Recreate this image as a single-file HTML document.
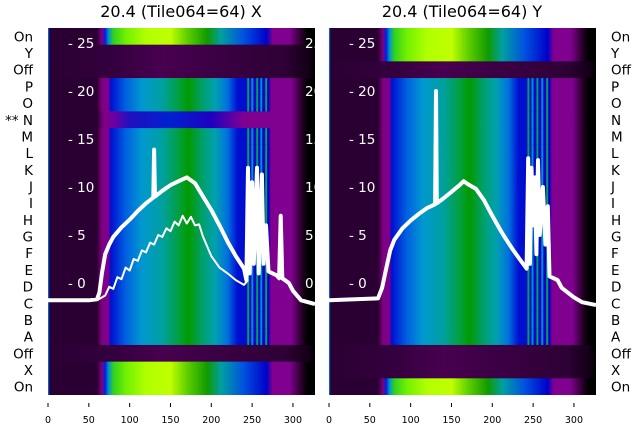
<!DOCTYPE html>
<html><head><meta charset="utf-8"><style>
html,body{margin:0;padding:0;background:#fff;}
svg{display:block;font-family:"DejaVu Sans","Liberation Sans",sans-serif;}
</style></head><body>
<svg id="c" width="640" height="440" xmlns="http://www.w3.org/2000/svg">
<defs>
<clipPath id="clipL"><rect x="48" y="28" width="267" height="367"/></clipPath>
<clipPath id="clipR"><rect x="329" y="28" width="267" height="367"/></clipPath>
</defs>
<g id="root"></g>
</svg>
<script>
const rowLabels = ["On","Y","Off","P","O","N","M","L","K","J","I","H","G","F","E","D","C","B","A","Off","X","On"];
const rowTypesX = ["on","off","off","n","n","dim","n","n","n","n","n","n","n","n","n","n","n","n","n","off","on","on"];
const rowTypesY = ["on","on","off","n","n","n","n","n","n","n","n","n","n","n","n","n","n","n","n","off","off","on"];
const xTicks = [0,50,100,150,200,250,300];
const yTicks = [0,5,10,15,20,25];
const mainX_x = [0,50,60,63,66,70,75,80,90,100,110,120,129,130,131,140,150,160,170,180,190,200,210,220,230,240,243,245,247,250,252,256,258,262,264,267,270,280,283,285,287,295,300,310,327];
const mainX_v = [-1.8,-1.8,-1.7,-1,1,3,4,4.8,5.8,6.6,7.5,8.3,8.9,13.9,9,9.6,10.2,10.6,11,10.4,9,7.6,6,4.3,2.8,1.5,0.3,12,1,10.5,2,12,1,11.3,2,6,1.2,0.8,0.5,7,0.5,0,-0.8,-1.8,-2.2];
const lowX_x = [60,70,75,80,85,90,95,100,105,110,115,120,125,130,135,140,145,150,155,160,165,170,175,180,185,190,200,210,220,230,240,245];
const lowX_v = [-1.8,-1.3,-0.4,-0.6,0.6,0.4,1.6,1.3,2.5,2.3,3.4,3.2,4.2,4,5,4.8,5.7,5.4,6.4,6,7,6.2,6.9,6,6.1,4.8,2.8,1.6,1,0.3,-0.2,0.3];
const mainY_x = [0,60,65,70,75,80,90,100,110,120,130,131,132,140,150,160,165,170,180,190,200,210,215,225,235,242,244,246,248,250,252,254,256,258,262,265,268,270,280,285,300,310,327];
const mainY_v = [-1.8,-1.6,-0.5,1.5,3.4,4.5,5.7,6.5,7.2,7.8,8.2,20,8.3,8.8,9.5,10.2,10.6,10.3,9.8,8.6,7,5.5,4.8,3.5,2.3,1.5,13,2,12,6,11,3,12.8,5,10,4,8,0.7,0.3,-0.5,-1.5,-2,-2.3];
const stripesX = [244,249,255,260,266];
const stripesY = [243,248,254,260,266];

const NS="http://www.w3.org/2000/svg";
const root=document.getElementById('root');
const defs=document.querySelector('defs');
const TOP=28, ROWH=367/22, SC=0.8165;
function px(ox,x){return ox+x*SC;}
function py(v){return 283-v*9.6;}
function mk(tag,attrs,parent){const e=document.createElementNS(NS,tag);for(const k in attrs)e.setAttribute(k,attrs[k]);(parent||root).appendChild(e);return e;}

const profiles={
 n:[[0,"#2a0033"],[60,"#2a0033"],[66,"#800080"],[74,"#7a0090"],[77,"#0010d0"],[95,"#0060e0"],[115,"#0098d0"],[140,"#00a0a0"],[160,"#00a040"],[172,"#009a00"],[190,"#00a070"],[205,"#00a0b0"],[220,"#0070e0"],[232,"#0010d0"],[270,"#0000c8"],[273,"#800090"],[298,"#800090"],[312,"#200020"],[318,"#000000"],[327,"#000000"]],
 on:[[0,"#2a0033"],[60,"#2a0033"],[66,"#800080"],[70,"#0020e0"],[74,"#0090d0"],[80,"#30d020"],[95,"#70f000"],[120,"#b0ff00"],[150,"#c0ff00"],[170,"#60d000"],[195,"#109a00"],[212,"#00a0a0"],[240,"#0050e0"],[268,"#0000c8"],[275,"#800090"],[296,"#800090"],[312,"#200020"],[318,"#000000"],[327,"#000000"]],
 off:[[0,"#2a0033"],[80,"#34003e"],[140,"#480050"],[200,"#3c0045"],[290,"#2e0036"],[318,"#150018"],[327,"#000000"]],
 dim:[[0,"#2a0033"],[60,"#2a0033"],[68,"#800080"],[80,"#7000a0"],[100,"#2010c0"],[150,"#0020d0"],[200,"#2000c0"],[240,"#800090"],[298,"#800090"],[312,"#200020"],[318,"#000000"],[327,"#000000"]]
};
function grad(id,ox,prof){
 const g=mk('linearGradient',{id:id,gradientUnits:'userSpaceOnUse',x1:px(ox,0),x2:px(ox,327),y1:0,y2:0},defs);
 prof.forEach(s=>mk('stop',{offset:(s[0]/327),'stop-color':s[1]},g));
}
function panel(ox,types,name,stripes,clip,title){
 Object.keys(profiles).forEach(k=>grad(name+k,ox,profiles[k]));
 const g=mk('g',{'clip-path':'url(#'+clip+')'});
 
 
 types.forEach((t,i)=>{
  const r=mk('rect',{x:ox,y:TOP+i*ROWH,width:267,height:ROWH+0.5,fill:'url(#'+name+t+')'},g);
  
  
  if(t==='n'){
   stripes.forEach((s,j)=>{mk('rect',{x:px(ox,s),y:TOP+i*ROWH,width:2,height:ROWH+0.5,fill:j%2?'#0090d0':'#00a060'},g);});
  }
 });
 mk('rect',{x:ox,y:TOP,width:1.2,height:367,fill:'#0060e0'},g);
 yTicks.forEach(v=>{
  const t=mk('text',{x:ox+20,y:py(v)+5,fill:'#fff','font-size':13.5},g);
  t.textContent='- '+v;
  
  
 });
 const tt=mk('text',{x:ox+133,y:17,'text-anchor':'middle','font-size':16,fill:'#000'});
 tt.textContent=title;
 
 
 xTicks.forEach(v=>{
  mk('line',{x1:px(ox,v),x2:px(ox,v),y1:403,y2:407,stroke:'#000','stroke-width':1});
  const t=mk('text',{x:px(ox,v),y:423,'text-anchor':'middle','font-size':9.5,fill:'#000'});
  t.textContent=v;
  
  
 });
 return g;
}
function line(g,ox,xs,vs,w,name){
 const d=xs.map((x,i)=>(i?'L':'M')+px(ox,x).toFixed(1)+','+py(vs[i]).toFixed(1)).join(' ');
 const p=mk('path',{d:d,fill:'none',stroke:'#fff','stroke-width':w,'stroke-linejoin':'round'},g);
 
 
}
const gL=panel(48,rowTypesX,'panel-x',stripesX,'clipL','20.4 (Tile064=64) X');
const gR=panel(329,rowTypesY,'panel-y',stripesY,'clipR','20.4 (Tile064=64) Y');
yTicks.forEach(v=>{const t=mk('text',{x:305,y:py(v)+5,fill:'#fff','font-size':13.5},gL);t.textContent=v;});
line(gL,48,mainX_x,mainX_v,4,'x-main-curve');
line(gL,48,lowX_x,lowX_v,2,'x-low-curve');
line(gR,329,mainY_x,mainY_v,4,'y-main-curve');
rowLabels.forEach((l,i)=>{
 const y=TOP+(i+0.5)*ROWH+5;
 const a=mk('text',{x:33,y:y,'text-anchor':'end','font-size':13.5,fill:'#000'});
 a.textContent=(i===5?'** ':'')+l;
 
 
 const b=mk('text',{x:611,y:y,'text-anchor':'start','font-size':13.5,fill:'#000'});
 b.textContent=l;
 
 
});
</script>
</body></html>
